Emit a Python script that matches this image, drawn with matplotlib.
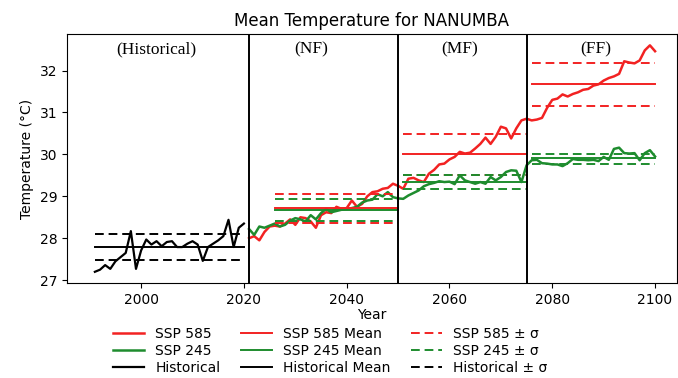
import numpy as np
import matplotlib
matplotlib.use("Agg")
import matplotlib.pyplot as plt

# --- data ------------------------------------------------------------------
hist_years = np.arange(1991, 2021)
hist_temp = [27.20, 27.25, 27.36, 27.27, 27.45, 27.55, 27.65, 28.17, 27.27, 27.71,
             27.97, 27.85, 27.93, 27.81, 27.91, 27.93, 27.79, 27.79, 27.87, 27.93,
             27.85, 27.46, 27.79, 27.87, 27.95, 28.05, 28.44, 27.79, 28.25, 28.35]

fut_years = np.arange(2021, 2101)
ssp585 = [28.00, 28.05, 27.95, 28.15, 28.28, 28.30, 28.28, 28.35, 28.45, 28.32,
          28.50, 28.48, 28.40, 28.25, 28.55, 28.62, 28.60, 28.75, 28.70, 28.72,
          28.90, 28.75, 28.82, 29.00, 29.10, 29.12, 29.18, 29.20, 29.30, 29.25,
          29.18, 29.42, 29.44, 29.38, 29.34, 29.54, 29.63, 29.76, 29.78, 29.88,
          29.94, 30.06, 30.02, 30.04, 30.14, 30.25, 30.40, 30.25, 30.42, 30.66,
          30.62, 30.38, 30.62, 30.81, 30.85,
          30.81, 30.83, 30.87, 31.11, 31.30, 31.33, 31.43, 31.38, 31.44, 31.48,
          31.54, 31.56, 31.64, 31.67, 31.76, 31.82, 31.86, 31.92, 32.22, 32.19,
          32.17, 32.24, 32.48, 32.60, 32.46]
ssp245 = [28.22, 28.08, 28.28, 28.25, 28.30, 28.35, 28.28, 28.32, 28.42, 28.48,
          28.45, 28.40, 28.55, 28.45, 28.60, 28.70, 28.62, 28.65, 28.68, 28.70,
          28.72, 28.75, 28.85, 28.90, 28.92, 29.05, 29.00, 29.10, 28.98, 28.95,
          28.94, 29.02, 29.08, 29.14, 29.24, 29.29, 29.32, 29.36, 29.34, 29.35,
          29.29, 29.50, 29.38, 29.34, 29.30, 29.34, 29.30, 29.46, 29.38, 29.46,
          29.58, 29.62, 29.61, 29.34, 29.74,
          29.86, 29.87, 29.79, 29.78, 29.76, 29.76, 29.72, 29.79, 29.89, 29.87,
          29.87, 29.86, 29.87, 29.84, 29.94, 29.87, 30.13, 30.16, 30.03, 30.02,
          30.03, 29.86, 30.03, 30.10, 29.95]

# period statistics (mean, +/- sigma bounds)
hist_span = (1991, 2020)
hist_mean, hist_lo, hist_hi = 27.79, 27.48, 28.11
periods = ["(Historical)", "(NF)", "(MF)", "(FF)"]
period_spans = [(2026, 2050), (2051, 2075), (2076, 2100)]
ssp585_mean = [28.72, 30.02, 31.68]
ssp585_lo = [28.37, 29.52, 31.16]
ssp585_hi = [29.06, 30.49, 32.19]
ssp245_mean = [28.67, 29.34, 29.92]
ssp245_lo = [28.41, 29.17, 29.78]
ssp245_hi = [28.93, 29.52, 30.02]
dividers = [2021, 2050, 2075]

C_585 = "#f22222"
C_245 = "#1e8c2e"
C_HIST = "black"
DASH = (0, (4.5, 2.5))

fig = plt.figure(figsize=(6.78, 3.78), dpi=100)
ax = fig.add_axes([0.099, 0.251, 0.899, 0.659])

l585, = ax.plot(fut_years, ssp585, color=C_585, lw=1.8)
l245, = ax.plot(fut_years, ssp245, color=C_245, lw=1.8)
lhist, = ax.plot(hist_years, hist_temp, color=C_HIST, lw=1.6)

m585 = m245 = s585 = s245 = None
for (a, b), m, lo, hi in zip(period_spans, ssp585_mean, ssp585_lo, ssp585_hi):
    m585, = ax.plot([a, b], [m, m], color=C_585, lw=1.4)
    s585, = ax.plot([a, b], [lo, lo], color=C_585, lw=1.4, ls=DASH)
    ax.plot([a, b], [hi, hi], color=C_585, lw=1.4, ls=DASH)
for (a, b), m, lo, hi in zip(period_spans, ssp245_mean, ssp245_lo, ssp245_hi):
    m245, = ax.plot([a, b], [m, m], color=C_245, lw=1.4)
    s245, = ax.plot([a, b], [lo, lo], color=C_245, lw=1.4, ls=DASH)
    ax.plot([a, b], [hi, hi], color=C_245, lw=1.4, ls=DASH)

mhist, = ax.plot(hist_span, [hist_mean] * 2, color=C_HIST, lw=1.4)
shist, = ax.plot(hist_span, [hist_lo] * 2, color=C_HIST, lw=1.4, ls=DASH)
ax.plot(hist_span, [hist_hi] * 2, color=C_HIST, lw=1.4, ls=DASH)

for d in dividers:
    ax.axvline(d, color="black", lw=1.4)

# period labels
label_x = [2003, 2033, 2062, 2088.5]
for x, t in zip(label_x, periods):
    ax.text(x, 32.5, t, ha="center", va="center",
            family="Liberation Serif", fontsize=12.5)

ax.set_xlim(1985.6, 2104.2)
ax.set_ylim(26.93, 32.87)
ax.set_xticks([2000, 2020, 2040, 2060, 2080, 2100])
ax.set_yticks([27, 28, 29, 30, 31, 32])
ax.tick_params(labelsize=10)
ax.set_xlabel("Year", fontsize=10, labelpad=1)
ax.set_ylabel("Temperature (°C)", fontsize=10)
ax.set_title("Mean Temperature for NANUMBA", fontsize=12)

handles = [l585, l245, lhist, m585, m245, mhist, s585, s245, shist]
labels = ["SSP 585", "SSP 245", "Historical",
          "SSP 585 Mean", "SSP 245 Mean", "Historical Mean",
          "SSP 585 ± σ", "SSP 245 ± σ", "Historical ± σ"]
fig.legend(handles, labels, ncol=3, frameon=False, fontsize=10,
           loc="upper center", bbox_to_anchor=(0.487, 0.163),
           handlelength=2.2, columnspacing=1.5, labelspacing=0.22,
           borderpad=0.25)

fig.savefig("out.png", dpi=100)
